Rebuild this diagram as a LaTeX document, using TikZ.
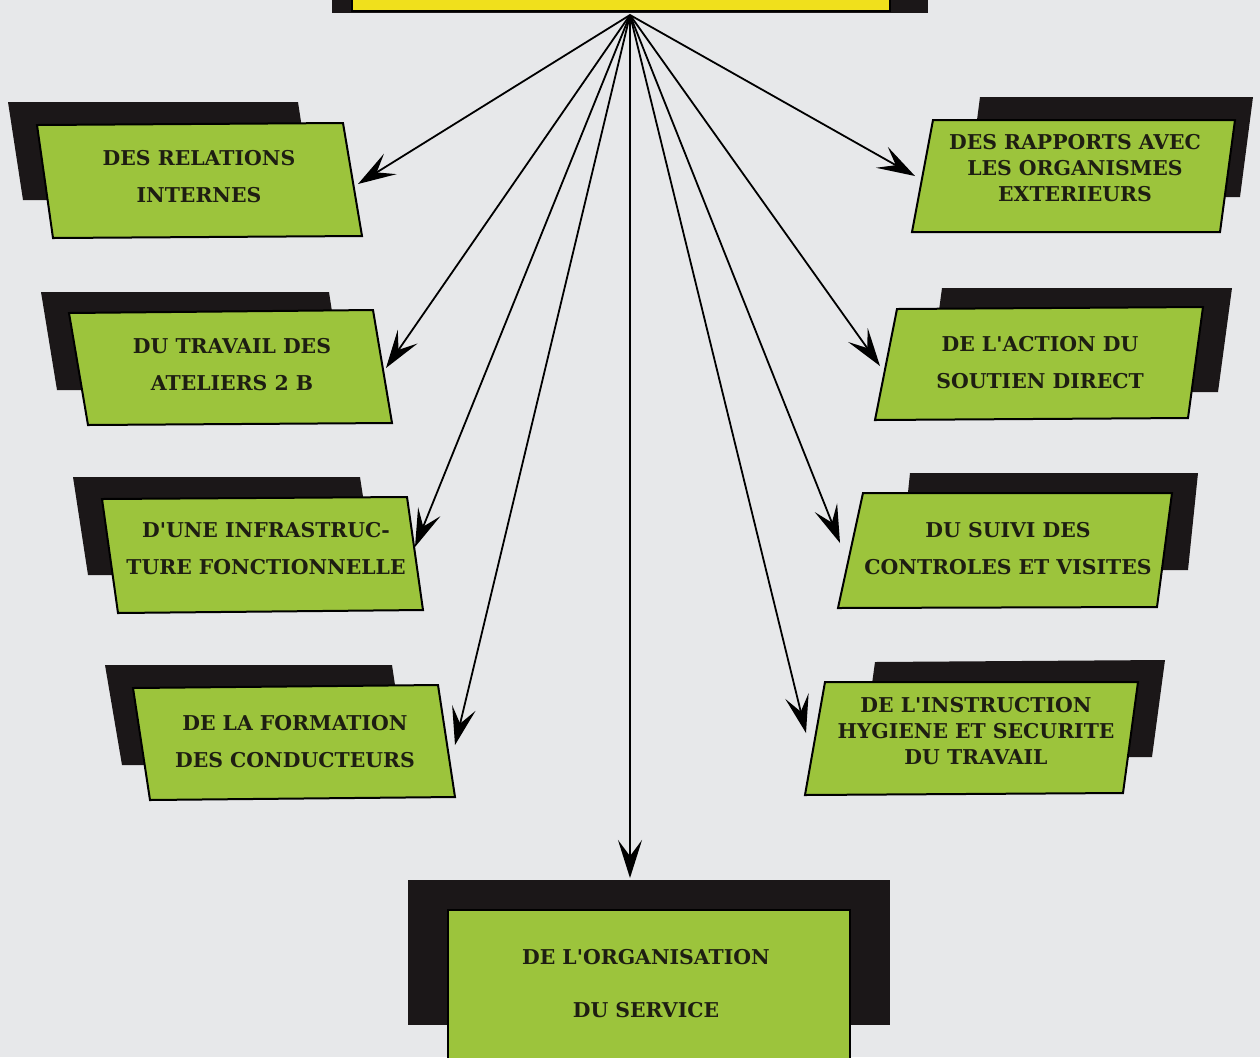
\documentclass[tikz,border=0pt]{standalone}
\usepackage{fontspec}
\setmainfont{DejaVu Serif}[Ligatures=TeXOff]
\usetikzlibrary{arrows.meta}

\definecolor{pagebg}{HTML}{E7E8EA}
\definecolor{boxgreen}{HTML}{9CC43C}
\definecolor{topyellow}{HTML}{F0E01C}
\definecolor{shadowblack}{HTML}{1B1718}
\definecolor{inkdark}{HTML}{1E1E12}

\tikzset{
  px/.style={x=0.5pt,y=-0.5pt},
  backshadow/.style={fill=shadowblack},
  greenbox/.style={fill=boxgreen,draw=black,line width=1pt,line join=miter},
  yellowbox/.style={fill=topyellow,draw=black,line width=1pt},
  boxtext/.style={font=\bfseries\fontsize{10.2}{18.5}\selectfont,align=center,text=inkdark,inner sep=0pt},
  boxtextthree/.style={boxtext,font=\bfseries\fontsize{10.2}{13}\selectfont},
  link/.style={draw=black,line width=0.9pt,-{Stealth[length=19pt,width=12pt,inset=8pt]}},
}

\begin{document}
\begin{tikzpicture}[px]
  % page
  \fill[pagebg] (0,0) rectangle (1260,1057);
  \useasboundingbox (0,0) rectangle (1260,1057);

  % heading box, cut by the top edge
  \fill[backshadow] (332,-20) rectangle (928,13);
  \draw[yellowbox] (352,-20) rectangle (890,11);
  \coordinate (hub) at (630,15);

  % ---------- left column ----------
  \fill[backshadow] (8,102) -- (298,102) -- (313,200) -- (23,200) -- cycle;
  \draw[greenbox] (37,125) -- (343,123) -- (362,236) -- (53,238) -- cycle;
  \node[boxtext] (rel) at (199,177) {DES RELATIONS\\INTERNES};
  \coordinate (relIn) at (358,184);

  \fill[backshadow] (41,292) -- (329,292) -- (344,390) -- (57,390) -- cycle;
  \draw[greenbox] (69,313) -- (373,310) -- (392,423) -- (88,425) -- cycle;
  \node[boxtext] (trav) at (232,365) {DU TRAVAIL DES\\ATELIERS 2 B};
  \coordinate (travIn) at (386,368);

  \fill[backshadow] (73,477) -- (360,477) -- (375,575) -- (88,575) -- cycle;
  \draw[greenbox] (102,499) -- (407,497) -- (423,610) -- (118,613) -- cycle;
  \node[boxtext] (infra) at (266,549) {D'UNE INFRASTRUC-\\TURE FONCTIONNELLE};
  \coordinate (infraIn) at (415,547);

  \fill[backshadow] (105,665) -- (392,665) -- (407,765) -- (122,765) -- cycle;
  \draw[greenbox] (133,688) -- (438,685) -- (455,797) -- (150,800) -- cycle;
  \node[boxtext] (form) at (295,742) {DE LA FORMATION\\DES CONDUCTEURS};
  \coordinate (formIn) at (455,745);

  % ---------- right column ----------
  \fill[backshadow] (980,97) -- (1253,97) -- (1240,197) -- (967,197) -- cycle;
  \draw[greenbox] (933,120) -- (1235,120) -- (1220,232) -- (912,232) -- cycle;
  \node[boxtextthree] (rapp) at (1075,168) {DES RAPPORTS AVEC\\LES ORGANISMES\\EXTERIEURS};
  \coordinate (rappIn) at (915,176);

  \fill[backshadow] (942,288) -- (1232,288) -- (1218,392) -- (928,392) -- cycle;
  \draw[greenbox] (897,309) -- (1203,307) -- (1188,418) -- (875,420) -- cycle;
  \node[boxtext] (act) at (1040,363) {DE L'ACTION DU\\SOUTIEN DIRECT};
  \coordinate (actIn) at (880,366);

  \fill[backshadow] (910,473) -- (1198,473) -- (1188,570) -- (900,570) -- cycle;
  \draw[greenbox] (863,493) -- (1172,493) -- (1157,607) -- (838,608) -- cycle;
  \node[boxtext] (suivi) at (1008,549) {DU SUIVI DES\\CONTROLES ET VISITES};
  \coordinate (suiviIn) at (840,543);

  \fill[backshadow] (875,662) -- (1165,660) -- (1152,757) -- (862,757) -- cycle;
  \draw[greenbox] (825,682) -- (1138,682) -- (1123,793) -- (805,795) -- cycle;
  \node[boxtextthree] (hyg) at (976,731) {DE L'INSTRUCTION\\HYGIENE ET SECURITE\\DU TRAVAIL};
  \coordinate (hygIn) at (806,733);

  % ---------- bottom box ----------
  \fill[backshadow] (408,880) rectangle (890,1025);
  \draw[greenbox] (448,910) rectangle (850,1075);
  \node[boxtext,font=\bfseries\fontsize{10.2}{26.5}\selectfont] (org) at (646,984) {DE L'ORGANISATION\\DU SERVICE};
  \coordinate (orgIn) at (630,878);

  % ---------- connectors ----------
  \foreach \target in {relIn,travIn,infraIn,formIn,orgIn,rappIn,actIn,suiviIn,hygIn}
    \draw[link] (hub) -- (\target);
\end{tikzpicture}
\end{document}
